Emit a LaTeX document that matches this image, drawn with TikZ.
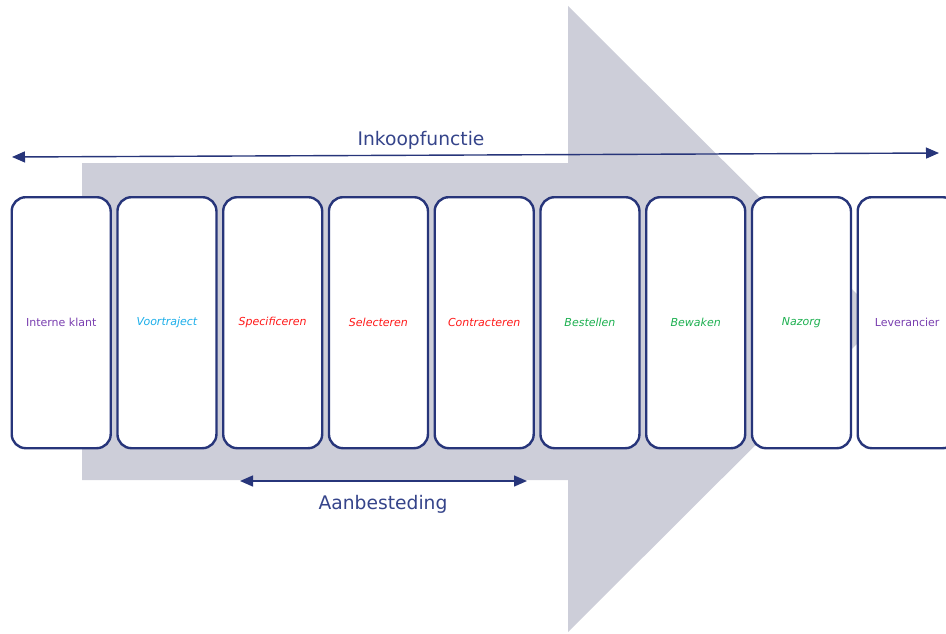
\documentclass[tikz,border=0pt]{standalone}
\usepackage{fontspec}
\setmainfont{DejaVu Sans}
\usetikzlibrary{arrows.meta}
\definecolor{navy}{HTML}{27357A}
\definecolor{navytext}{HTML}{35448A}
\definecolor{biggrey}{HTML}{CDCED9}
\definecolor{kpurple}{HTML}{7A3FB0}
\definecolor{kcyan}{HTML}{1AAEEA}
\definecolor{kred}{HTML}{FF1A1A}
\definecolor{kgreen}{HTML}{1DB050}
\tikzset{
  stepbox/.style={draw=navy, line width=2.4pt, fill=white, rounded corners=14pt,
    minimum width=99pt, minimum height=251pt, inner sep=0pt, anchor=north west,
    font=\fontsize{11}{13}\selectfont},
  dimarrow/.style={draw=navy, line width=1.4pt, {Triangle[length=13pt,width=11pt]}-{Triangle[length=13pt,width=11pt]}},
  biglabel/.style={text=navytext, font=\fontsize{18.7}{22}\selectfont, inner sep=0pt, anchor=base}
}
\begin{document}
\begin{tikzpicture}[x=1pt,y=-1pt]
\useasboundingbox (0,0) rectangle (946,634);
\clip (0,0) rectangle (946,634);
% big grey arrow
\fill[biggrey] (82,163) -- (568,163) -- (568,6) -- (882,319) -- (568,632) -- (568,480) -- (82,480) -- cycle;
% boxes
\node[stepbox, text=kpurple] (b1) at (10.5,196) {Interne klant};
\node[stepbox, text=kcyan] (b2) at (116.25,196) {\itshape Voortraject};
\node[stepbox, text=kred] (b3) at (222,196) {\itshape Specificeren};
\node[stepbox, text=kred] (b4) at (327.75,196) {\itshape Selecteren};
\node[stepbox, text=kred] (b5) at (433.5,196) {\itshape Contracteren};
\node[stepbox, text=kgreen] (b6) at (539.25,196) {\itshape Bestellen};
\node[stepbox, text=kgreen] (b7) at (645,196) {\itshape Bewaken};
\node[stepbox, text=kgreen] (b8) at (750.75,196) {\itshape Nazorg};
\node[stepbox, text=kpurple] (b9) at (856.5,196) {Leverancier};
% top arrow
\coordinate (tl) at (12,157);
\coordinate (tr) at (939,153);
\draw[dimarrow] (tl) -- (tr);
\node[biglabel] (inkoop) at (421,145.5) {Inkoopfunctie};
% bottom arrow
\coordinate (bl) at (240,481);
\coordinate (br) at (527,481);
\draw[dimarrow] (bl) -- (br);
\node[biglabel] (aanb) at (383,509.5) {Aanbesteding};
\end{tikzpicture}
\end{document}
